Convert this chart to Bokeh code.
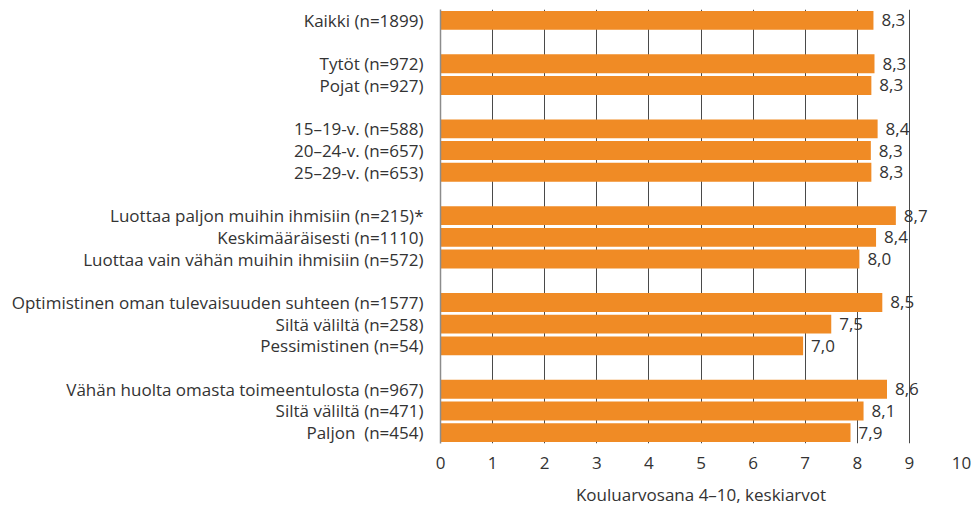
from bokeh.plotting import figure
from bokeh.models import ColumnDataSource, FactorRange, Range1d, FixedTicker
from bokeh.embed import file_html
from bokeh.resources import INLINE
from bokeh.core.properties import value

# --- data -------------------------------------------------------------
categories = [
    "Kaikki (n=1899)",
    "Tytöt (n=972)", "Pojat (n=927)",
    "15–19-v. (n=588)", "20–24-v. (n=657)", "25–29-v. (n=653)",
    "Luottaa paljon muihin ihmisiin (n=215)*", "Keskimääräisesti (n=1110)",
    "Luottaa vain vähän muihin ihmisiin (n=572)",
    "Optimistinen oman tulevaisuuden suhteen (n=1577)", "Siltä väliltä (n=258)",
    "Pessimistinen (n=54)",
    "Vähän huolta omasta toimeentulosta (n=967)", "Siltä väliltä (n=471)",
    "Paljon\u00a0\u00a0(n=454)",
]
group_sizes = [1, 2, 3, 3, 3, 3]
means = [8.31, 8.33, 8.27, 8.39, 8.26, 8.27, 8.74, 8.36, 8.04,
         8.48, 7.50, 6.96, 8.57, 8.12, 7.87]
x_ticks = [0, 1, 2, 3, 4, 5, 6, 7, 8, 9, 10]
x_title = "Kouluarvosana 4–10, keskiarvot"

# --- build factor list with blank separators between groups ----------
factors_top_down = []
i = 0
for g, n in enumerate(group_sizes):
    if g > 0:
        factors_top_down.append(" " * g)
    factors_top_down.extend(categories[i:i + n])
    i += n

labels = [f"{v:.1f}".replace(".", ",") for v in means]
src = ColumnDataSource(dict(cat=categories, val=means, lab=labels))

FONT = "Open Sans"
TXT = "#333333"
FS = "17px"

p = figure(
    width=978, height=508,
    y_range=FactorRange(factors=list(reversed(factors_top_down)), range_padding=0),
    x_range=Range1d(0, 10),
    output_backend="svg", toolbar_location=None,
    min_border_left=440, min_border_right=17, min_border_top=9, min_border_bottom=63,
)
p.outline_line_color = None
p.background_fill_color = "white"

p.hbar(y="cat", right="val", left=0, height=0.87, source=src,
       fill_color="#F08B25", line_color=None)

p.text(x="val", y="cat", text="lab", source=src, x_offset=8,
       text_baseline="middle", text_align="left",
       text_font=value(FONT), text_font_size=FS, text_color=TXT)

# grid
p.ygrid.grid_line_color = None
p.xgrid.ticker = FixedTicker(ticks=x_ticks)
p.xgrid.grid_line_color = "#4a4a4a"
p.xgrid.grid_line_width = 1
p.xgrid.level = "underlay"

# x axis
p.xaxis.ticker = FixedTicker(ticks=x_ticks)
p.xaxis.axis_line_color = None
p.xaxis.major_tick_line_color = None
p.xaxis.minor_tick_line_color = None
p.xaxis.major_tick_out = 0
p.xaxis.major_label_standoff = 13
p.xaxis.major_label_text_font = FONT
p.xaxis.major_label_text_font_size = FS
p.xaxis.major_label_text_color = TXT
p.xaxis.axis_label = x_title
p.xaxis.axis_label_text_font = FONT
p.xaxis.axis_label_text_font_size = FS
p.xaxis.axis_label_text_font_style = "normal"
p.xaxis.axis_label_text_color = TXT
p.xaxis.axis_label_standoff = 11

# y axis
p.yaxis.axis_line_color = "#8c8c8c"
p.yaxis.axis_line_width = 1.5
p.yaxis.major_tick_line_color = None
p.yaxis.minor_tick_line_color = None
p.yaxis.major_tick_out = 0
p.yaxis.major_label_standoff = 17
p.yaxis.major_label_text_font = FONT
p.yaxis.major_label_text_font_size = FS
p.yaxis.major_label_text_color = TXT

open("out.html", "w").write(file_html(p, INLINE))
